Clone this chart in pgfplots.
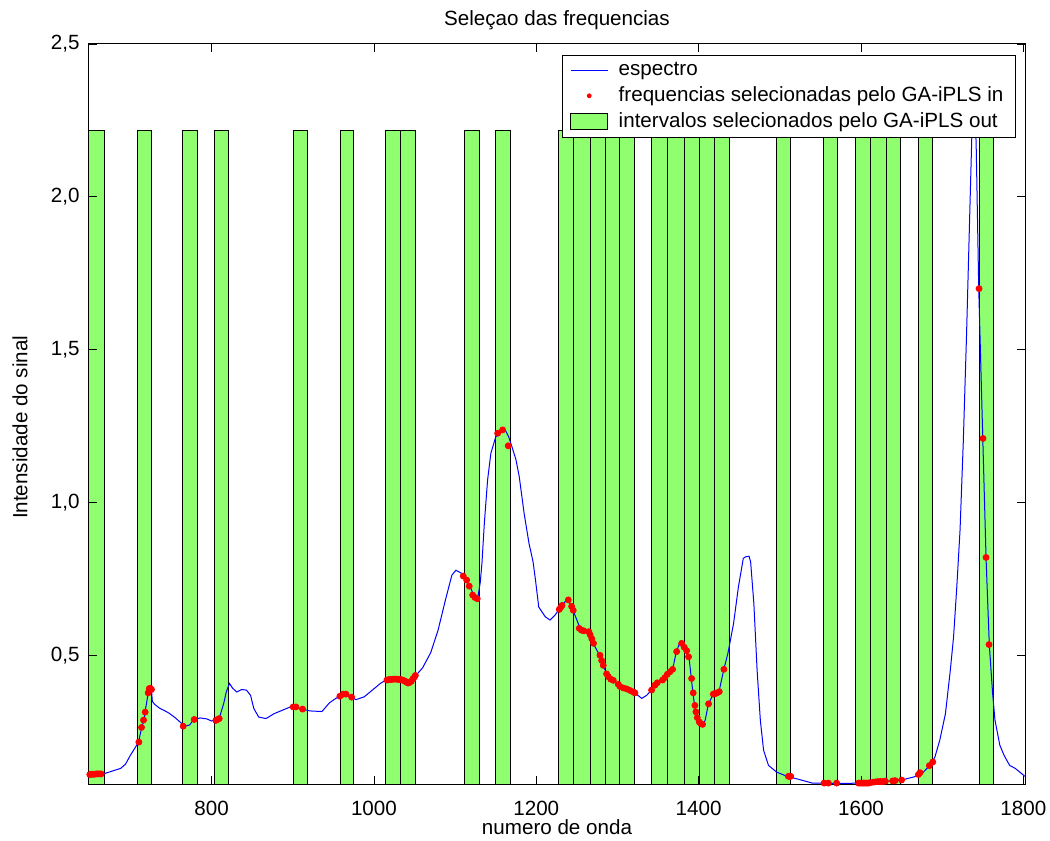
\documentclass[border=0pt]{standalone}
\usepackage{fontspec}
\setmainfont{Liberation Sans}
\usepackage{pgfplots}
\usepackage{pgfplotstable}
\pgfplotsset{compat=1.18}

\definecolor{barGreen}{RGB}{143,255,112}
\definecolor{specBlue}{RGB}{0,0,255}
\definecolor{dotRed}{RGB}{255,0,0}

% spectrum (wavenumber, signal)
\pgfplotstableread{
x y
649 0.112
655 0.112
662 0.113
668 0.114
675 0.120
682 0.126
688 0.131
694 0.145
700 0.174
705 0.195
710 0.217
714 0.266
717 0.292
718 0.315
722 0.378
724 0.393
726 0.388
727 0.350
730 0.340
736 0.328
742 0.320
748 0.311
755 0.297
761 0.283
767 0.269
773 0.273
778 0.291
786 0.296
794 0.293
800 0.286
807 0.293
810 0.300
815 0.344
818 0.380
822 0.409
826 0.393
831 0.381
837 0.389
843 0.387
848 0.370
852 0.327
858 0.299
867 0.294
877 0.310
887 0.321
897 0.332
904 0.332
911 0.325
921 0.319
936 0.317
945 0.345
953 0.360
963 0.374
971 0.365
978 0.356
988 0.365
998 0.387
1008 0.409
1016 0.422
1025 0.423
1032 0.422
1038 0.418
1042 0.410
1047 0.419
1052 0.436
1060 0.460
1070 0.510
1079 0.583
1088 0.681
1096 0.763
1101 0.779
1108 0.769
1112 0.758
1118 0.727
1124 0.692
1128 0.690
1131 0.740
1133 0.800
1136 0.933
1140 1.074
1144 1.161
1150 1.215
1155 1.229
1159 1.238
1162 1.236
1166 1.215
1170 1.183
1175 1.140
1179 1.085
1185 0.965
1191 0.867
1196 0.807
1199 0.747
1203 0.659
1211 0.627
1217 0.616
1223 0.632
1228 0.651
1233 0.670
1239 0.684
1245 0.650
1250 0.616
1254 0.589
1260 0.582
1266 0.576
1270 0.540
1278 0.501
1282 0.468
1287 0.440
1293 0.422
1301 0.406
1311 0.392
1321 0.378
1330 0.360
1336 0.370
1342 0.387
1348 0.405
1356 0.422
1364 0.447
1368 0.455
1372 0.507
1377 0.545
1381 0.534
1385 0.514
1388 0.496
1391 0.425
1393 0.376
1395 0.337
1398 0.299
1402 0.279
1405 0.274
1408 0.288
1412 0.342
1418 0.374
1425 0.381
1431 0.455
1436 0.507
1443 0.605
1449 0.725
1455 0.818
1458 0.823
1462 0.825
1464 0.807
1468 0.670
1472 0.452
1476 0.288
1480 0.190
1486 0.141
1496 0.119
1509 0.105
1525 0.094
1540 0.083
1574 0.082
1607 0.083
1620 0.086
1636 0.090
1650 0.093
1665 0.103
1675 0.114
1685 0.141
1691 0.168
1697 0.223
1704 0.310
1710 0.452
1714 0.561
1718 0.725
1722 0.911
1726 1.200
1730 1.550
1734 1.950
1737 2.250
1740 2.360
1742 2.150
1745 1.700
1750 1.210
1754 0.821
1758 0.536
1762 0.380
1765 0.289
1771 0.207
1776 0.175
1783 0.141
1790 0.131
1796 0.118
1802 0.105
}\spectrum

% frequencies picked by GA-iPLS
\pgfplotstableread{
x y
650 0.111
652 0.112
654 0.112
656 0.112
658 0.113
660 0.113
662 0.113
664 0.113
710.4 0.217
713.7 0.265
716.2 0.289
718.2 0.315
721.9 0.378
723.2 0.392
724.5 0.393
726.0 0.389
765.0 0.269
778.6 0.291
805.3 0.288
807.5 0.291
809.4 0.294
900.5 0.332
903.9 0.332
912.1 0.325
958.0 0.367
962.2 0.374
965.5 0.374
972.5 0.364
1016 0.420
1018 0.421
1020 0.422
1022 0.422
1024 0.423
1026 0.423
1028 0.423
1030 0.422
1032 0.422
1034 0.421
1036 0.419
1038 0.417
1040 0.413
1042 0.410
1044 0.412
1046 0.416
1048 0.424
1050 0.430
1051 0.435
1110.0 0.760
1114.2 0.747
1117.4 0.727
1121.6 0.698
1124.4 0.690
1127.3 0.686
1152.4 1.227
1158.5 1.238
1165.4 1.186
1228.3 0.651
1230.0 0.657
1231.7 0.664
1239.4 0.682
1243.5 0.661
1245.5 0.648
1252.9 0.589
1255.6 0.583
1258.5 0.581
1264.7 0.578
1266.3 0.568
1268.4 0.555
1270.5 0.540
1278.4 0.501
1280.5 0.484
1282.5 0.468
1286.6 0.440
1288.7 0.431
1291.6 0.423
1294.9 0.419
1301.0 0.406
1303.0 0.399
1307.2 0.394
1311.3 0.391
1315.4 0.386
1319.5 0.381
1321.5 0.378
1342.0 0.387
1346.1 0.403
1349.0 0.411
1355.5 0.420
1358.4 0.428
1361.4 0.439
1364.6 0.447
1367.9 0.455
1372.9 0.513
1379.0 0.540
1382.3 0.527
1385.2 0.516
1387.6 0.496
1391.3 0.425
1393.3 0.378
1395.4 0.337
1396.6 0.316
1398.3 0.297
1400.7 0.283
1402.5 0.278
1404.8 0.275
1412.2 0.342
1418.0 0.374
1420.0 0.376
1422.1 0.377
1425.4 0.382
1431.1 0.455
1510.5 0.105
1512.0 0.105
1513.4 0.105
1554.5 0.083
1559.8 0.083
1570.0 0.083
1597 0.083
1599 0.083
1601 0.083
1603 0.083
1605 0.083
1607 0.083
1609 0.083
1611 0.084
1615 0.086
1618 0.087
1621 0.088
1624 0.088
1627 0.088
1630 0.089
1639 0.090
1642 0.091
1650 0.093
1670.7 0.111
1672.7 0.117
1684.2 0.140
1688.4 0.152
1745.4 1.700
1750.3 1.210
1754.0 0.821
1757.7 0.536
}\selected

% selected intervals: left edge, right edge
\pgfplotstableread{
a b
649.0 667.7
708.3 725.6
764.3 782.3
803.7 820.9
900.5 917.8
958.9 974.5
1014.8 1032.9
1032.9 1051.7
1111.7 1129.7
1150.3 1168.4
1227.6 1245.5
1245.5 1267.0
1267.0 1285.0
1285.0 1303.0
1303.0 1321.2
1342.5 1361.4
1361.4 1382.0
1382.0 1400.8
1400.8 1418.9
1418.9 1437.8
1496.2 1513.4
1554.2 1571.5
1593.0 1611.9
1611.9 1631.6
1631.6 1648.9
1670.3 1688.5
1745.8 1763.0
}\intervals

\pgfplotstablegetrowsof{\intervals}
\pgfmathtruncatemacro{\nint}{\pgfplotsretval-1}

\newcommand{\lblfont}{\fontsize{10.3}{12}\selectfont}
\newcommand{\barTop}{2.217}

\begin{document}
\begin{tikzpicture}
\useasboundingbox (-44.5pt,-28.5pt) rectangle (480.5pt,392pt);
\begin{axis}[
  scale only axis,
  width=468pt, height=370pt,
  xmin=649, xmax=1802,
  ymin=0.08, ymax=2.5,
  xtick={800,1000,1200,1400,1600,1800},
  ytick={0.5,1,1.5,2,2.5},
  tick align=inside,
  major tick length=4pt,
  tick style={black, line width=0.4pt},
  axis line style={line width=0.5pt},
  axis on top,
  /pgf/number format/assume math mode=true,
  xticklabel style={/pgf/number format/1000 sep={}, anchor=base, yshift=-15.5pt, inner sep=0pt},
  yticklabel style={/pgf/number format/use comma, /pgf/number format/fixed,
    /pgf/number format/fixed zerofill, /pgf/number format/precision=1,
    /pgf/number format/1000 sep={}, anchor=east, xshift=-1.2pt},
  tick label style={font=\lblfont},
  title={Seleçao das frequencias},
  title style={font=\lblfont, at={(axis description cs:0.5,1)}, anchor=base, yshift=3pt},
  xlabel={numero de onda},
  xlabel style={font=\lblfont, at={(axis description cs:0.5,0)}, anchor=base, yshift=-25pt},
  ylabel={Intensidade do sinal},
  ylabel style={font=\lblfont, at={(axis description cs:-0.0737,0.482)}, anchor=center},
  legend style={
    at={(axis description cs:1,1)}, anchor=north east,
    xshift=-4.5pt, yshift=-5.5pt,
    draw=black, line width=0.5pt, fill=white,
    font=\lblfont, cells={anchor=west},
    inner xsep=4pt, inner ysep=1.5pt, row sep=0pt,
  },
]
% green interval boxes
\pgfplotsforeachungrouped \i in {0,...,\nint}{
  \pgfplotstablegetelem{\i}{a}\of{\intervals}\let\ia\pgfplotsretval
  \pgfplotstablegetelem{\i}{b}\of{\intervals}\let\ib\pgfplotsretval
  \edef\tmp{\noexpand\addplot[fill=barGreen, draw=black, line width=0.5pt, forget plot]
    coordinates {(\ia,0) (\ia,\barTop) (\ib,\barTop) (\ib,0)} -- cycle;}
  \tmp
}
% legend entries (each sample padded to a common width)
\addlegendimage{legend image code/.code={\path[draw=none, fill=none] (0pt,0pt) (22pt,0pt);
  \draw[specBlue, line width=0.5pt] (0pt,0pt) -- (18.5pt,0pt);}}
\addlegendentry{espectro}
\addlegendimage{legend image code/.code={\path[draw=none, fill=none] (0pt,0pt) (22pt,0pt);
  \fill[dotRed, draw=none] (9.25pt,0pt) circle (1.2pt);}}
\addlegendentry{frequencias selecionadas pelo GA-iPLS in}
\addlegendimage{legend image code/.code={\path[draw=none, fill=none] (0pt,0pt) (22pt,0pt);
  \draw[fill=barGreen, draw=black, line width=0.5pt] (0pt,-4pt) rectangle (18.5pt,4pt);}}
\addlegendentry{intervalos selecionados pelo GA-iPLS out}
% spectrum and selected points
\addplot[specBlue, line width=0.5pt, forget plot] table[x=x, y=y] {\spectrum};
\addplot[only marks, mark=*, mark size=1.5pt, mark options={draw=dotRed, fill=dotRed}, forget plot] table[x=x, y=y] {\selected};
\end{axis}
\end{tikzpicture}
\end{document}
